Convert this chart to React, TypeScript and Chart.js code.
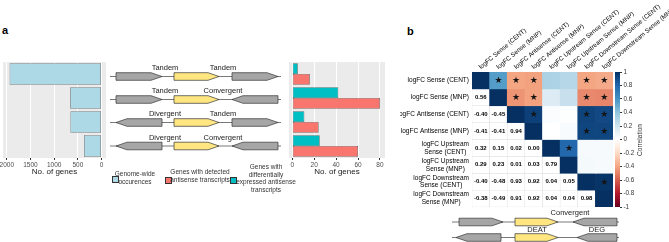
import React, { useEffect, useRef } from "react";
import { Chart, registerables } from "chart.js";
Chart.register(...registerables);

const FONT = "'Liberation Sans', Arial, Helvetica, sans-serif";

// ---------- panel a data ----------
const arrangements = ["Tandem / Tandem", "Tandem / Convergent", "Divergent / Tandem", "Divergent / Convergent"];
const upstreamLabels = ["Tandem", "Tandem", "Divergent", "Divergent"];
const downstreamLabels = ["Tandem", "Convergent", "Tandem", "Convergent"];
const upstreamDir = ["R", "R", "L", "L"];
const downstreamDir = ["R", "L", "R", "L"];
const genomeWide = [1940, 660, 655, 370];
const detectedAntisense = [16, 80, 24, 60];
const deAntisense = [5, 42, 11, 25];
const genomeTicks = [0, 500, 1000, 1500, 2000];
const countTicks = [0, 20, 40, 60, 80];

// ---------- panel b data ----------
const corrNames = [
  "logFC Sense (CENT)",
  "logFC Sense (MNP)",
  "logFC Antisense (CENT)",
  "logFC Antisense (MNP)",
  "logFC Upstream Sense (CENT)",
  "logFC Upstream Sense (MNP)",
  "logFC Downstream Sense (CENT)",
  "logFC Downstream Sense (MNP)",
];
const corrRowLines = [
  ["logFC Sense (CENT)"],
  ["logFC Sense (MNP)"],
  ["logFC Antisense (CENT)"],
  ["logFC Antisense (MNP)"],
  ["logFC Upstream", "Sense (CENT)"],
  ["logFC Upstream", "Sense (MNP)"],
  ["logFC Downstream", "Sense (CENT)"],
  ["logFC Downstream", "Sense (MNP)"],
];
const corrMatrix = [
  [1, 0.56, -0.4, -0.41, 0.32, 0.29, -0.4, -0.38],
  [0.56, 1, -0.45, -0.41, 0.15, 0.23, -0.48, -0.49],
  [-0.4, -0.45, 1, 0.94, 0.02, 0.01, 0.93, 0.91],
  [-0.41, -0.41, 0.94, 1, 0.0, 0.03, 0.92, 0.92],
  [0.32, 0.15, 0.02, 0.0, 1, 0.79, 0.04, 0.04],
  [0.29, 0.23, 0.01, 0.03, 0.79, 1, 0.05, 0.04],
  [-0.4, -0.48, 0.93, 0.92, 0.04, 0.05, 1, 0.98],
  [-0.38, -0.49, 0.91, 0.92, 0.04, 0.04, 0.98, 1],
];
const sigCells = [
  [0, 1], [0, 2], [0, 3], [0, 6], [0, 7],
  [1, 2], [1, 3], [1, 6], [1, 7],
  [2, 3], [2, 6], [2, 7],
  [3, 6], [3, 7],
  [4, 5],
  [6, 7],
];
const corrTicks = [-1, -0.8, -0.6, -0.4, -0.2, 0, 0.2, 0.4, 0.6, 0.8, 1];
const rdbu = ["#67001F", "#B2182B", "#D6604D", "#F4A582", "#FDDBC7", "#FFFFFF", "#D1E5F0", "#92C5DE", "#4393C3", "#2166AC", "#053061"];

function hexRgb(h: string) {
  return [parseInt(h.slice(1, 3), 16), parseInt(h.slice(3, 5), 16), parseInt(h.slice(5, 7), 16)];
}
function corrColor(v: number) {
  const p = ((v + 1) / 2) * (rdbu.length - 1);
  const i = Math.min(Math.floor(p), rdbu.length - 2);
  const t = p - i;
  const a = hexRgb(rdbu[i]);
  const b = hexRgb(rdbu[i + 1]);
  const c = a.map((x, k) => Math.round(x + (b[k] - x) * t));
  return `rgb(${c[0]},${c[1]},${c[2]})`;
}

const panelBg = {
  id: "panelBg",
  beforeDraw(chart: any) {
    const { ctx, chartArea: a } = chart;
    ctx.save();
    ctx.fillStyle = "#EBEBEB";
    ctx.fillRect(a.left, a.top, a.right - a.left, a.bottom - a.top);
    ctx.restore();
  },
};

const heatLabels = {
  id: "heatLabels",
  afterDatasetsDraw(chart: any) {
    const { ctx, chartArea } = chart;
    const x = chart.scales.x;
    const y = chart.scales.y;
    ctx.save();
    ctx.textAlign = "center";
    ctx.textBaseline = "middle";
    ctx.fillStyle = "#000";
    ctx.font = `bold 6px ${FONT}`;
    for (let r = 0; r < corrMatrix.length; r++) {
      for (let c = 0; c < r; c++) {
        ctx.fillText(corrMatrix[r][c].toFixed(2), x.getPixelForValue(c), y.getPixelForValue(r + 0.5));
      }
    }
    ctx.font = `9px 'DejaVu Sans', sans-serif`;
    ctx.fillStyle = "#141414";
    sigCells.forEach(([r, c]) => {
      ctx.fillText("\u2605", x.getPixelForValue(c), y.getPixelForValue(r + 0.5) + 0.5);
    });
    ctx.fillStyle = "#000";
    ctx.font = `6.5px ${FONT}`;
    corrRowLines.forEach((lines, r) => {
      const py = y.getPixelForValue(r + 0.5);
      const w = Math.max(...lines.map((l) => ctx.measureText(l).width));
      const cx = chartArea.left - 3 - w / 2;
      lines.forEach((l, i) => ctx.fillText(l, cx, py + (i - (lines.length - 1) / 2) * 7.8));
    });
    ctx.textAlign = "left";
    ctx.font = `6.3px ${FONT}`;
    corrNames.forEach((n, c) => {
      ctx.save();
      ctx.translate(x.getPixelForValue(c) - 1, chartArea.top - 4);
      ctx.rotate((-40 * Math.PI) / 180);
      ctx.fillText(n, 0, 0);
      ctx.restore();
    });
    ctx.restore();
  },
};

function ChartBox({ left, top, width, height, make }: any) {
  const ref = useRef<HTMLCanvasElement>(null);
  useEffect(() => {
    const chart = new Chart(ref.current as HTMLCanvasElement, make());
    return () => chart.destroy();
  }, []);
  return <canvas ref={ref} width={width} height={height} style={{ position: "absolute", left, top, width, height }} />;
}

const tickFont = { family: FONT, size: 6.5 };
const plainTick = (v: number) => String(v);

function leftChart() {
  return {
    type: "bar",
    data: {
      labels: arrangements,
      datasets: [
        {
          data: genomeWide,
          backgroundColor: "#ADD8E6",
          borderColor: "#333333",
          borderWidth: 0.6,
          borderSkipped: false,
          barPercentage: 0.9,
          categoryPercentage: 1,
        },
      ],
    },
    options: {
      indexAxis: "y",
      animation: false,
      responsive: false,
      devicePixelRatio: 1,
      layout: { padding: { left: 13, right: 6, top: 7, bottom: 0 } },
      plugins: { legend: { display: false }, tooltip: { enabled: false } },
      scales: {
        x: {
          reverse: true,
          min: -95,
          max: 2080,
          afterBuildTicks: (s: any) => {
            s.ticks = genomeTicks.map((v) => ({ value: v }));
          },
          afterFit: (s: any) => {
            s.height = 19;
          },
          grid: { color: "#FFFFFF", lineWidth: 1, tickColor: "#333333", tickLength: 2 },
          border: { display: false },
          ticks: { font: tickFont, color: "#4D4D4D", padding: 1, maxRotation: 0, callback: plainTick },
          title: { display: true, text: "No. of genes", font: { family: FONT, size: 8 }, color: "#1A1A1A", padding: 0 },
        },
        y: { display: false },
      },
    },
    plugins: [panelBg],
  };
}

function rightChart() {
  return {
    type: "bar",
    data: {
      labels: arrangements,
      datasets: [
        {
          label: "Genes with differentially expressed antisense transcripts",
          data: deAntisense,
          backgroundColor: "#00BFC4",
          borderColor: "#333333",
          borderWidth: 0.6,
          borderSkipped: false,
          barPercentage: 1,
          categoryPercentage: 0.9,
        },
        {
          label: "Genes with detected antisense transcripts",
          data: detectedAntisense,
          backgroundColor: "#F8766D",
          borderColor: "#333333",
          borderWidth: 0.6,
          borderSkipped: false,
          barPercentage: 1,
          categoryPercentage: 0.9,
        },
      ],
    },
    options: {
      indexAxis: "y",
      animation: false,
      responsive: false,
      devicePixelRatio: 1,
      layout: { padding: { left: 10, right: 8, top: 7, bottom: 0 } },
      plugins: { legend: { display: false }, tooltip: { enabled: false } },
      scales: {
        x: {
          min: -3,
          max: 84.6,
          afterBuildTicks: (s: any) => {
            s.ticks = countTicks.map((v) => ({ value: v }));
          },
          afterFit: (s: any) => {
            s.height = 19;
          },
          grid: { color: "#FFFFFF", lineWidth: 1, tickColor: "#333333", tickLength: 2 },
          border: { display: false },
          ticks: { font: tickFont, color: "#4D4D4D", padding: 1, maxRotation: 0, callback: plainTick },
          title: { display: true, text: "No. of genes", font: { family: FONT, size: 8 }, color: "#1A1A1A", padding: 0 },
        },
        y: { display: false },
      },
    },
    plugins: [panelBg],
  };
}

function heatChart() {
  const n = corrMatrix.length;
  const datasets = corrMatrix.map((row, r) => ({
    label: corrNames[r],
    data: row.map(() => 1),
    backgroundColor: row.map((v, c) => (c >= r ? corrColor(v) : "#FFFFFF")),
    borderColor: "#DDDDDD",
    borderWidth: row.map((_, c) => (c < r ? 0.5 : 0)),
    borderSkipped: false,
    barPercentage: 1,
    categoryPercentage: 1,
  }));
  return {
    type: "bar",
    data: { labels: corrNames, datasets },
    options: {
      animation: false,
      responsive: false,
      devicePixelRatio: 1,
      layout: { padding: { left: 72, right: 56, top: 72, bottom: 5 } },
      plugins: { legend: { display: false }, tooltip: { enabled: false } },
      scales: {
        x: { stacked: true, display: false },
        y: { stacked: true, display: false, min: 0, max: n, reverse: true },
      },
    },
    plugins: [heatLabels],
  };
}

function colorbarChart() {
  return {
    type: "bar",
    data: {
      labels: ["Correlation"],
      datasets: [
        {
          data: [[-1, 1]],
          backgroundColor: (ctx: any) => {
            const ca = ctx.chart.chartArea;
            if (!ca) return "#FFFFFF";
            const g = ctx.chart.ctx.createLinearGradient(0, ca.bottom, 0, ca.top);
            rdbu.forEach((col, i) => g.addColorStop(i / (rdbu.length - 1), col));
            return g;
          },
          borderWidth: 0,
          barPercentage: 1,
          categoryPercentage: 1,
        },
      ],
    },
    options: {
      animation: false,
      responsive: false,
      devicePixelRatio: 1,
      layout: { padding: { left: 15, right: 0, top: 12, bottom: 13 } },
      plugins: { legend: { display: false }, tooltip: { enabled: false } },
      scales: {
        x: { display: false },
        y: {
          position: "right",
          min: -1,
          max: 1,
          afterBuildTicks: (s: any) => {
            s.ticks = corrTicks.map((v) => ({ value: v }));
          },
          afterFit: (s: any) => {
            s.width = 20;
          },
          grid: { drawOnChartArea: false, drawTicks: true, tickLength: 2, tickColor: "#333333" },
          border: { display: false },
          ticks: {
            font: { family: FONT, size: 6.3 },
            color: "#333333",
            padding: 1.5,
            callback: (v: number) => {
              const r = Math.round(v * 10) / 10;
              return Math.abs(r) === 1 || r === 0 ? String(r) : r.toFixed(1);
            },
          },
        },
      },
    },
  };
}

function Gene({ x1, x2, y, dir, fill }: any) {
  const h = 3.8;
  const a = 11;
  const pts =
    dir === "R"
      ? [[x1, y - h], [x2 - a, y - h], [x2, y], [x2 - a, y + h], [x1, y + h]]
      : [[x2, y - h], [x1 + a, y - h], [x1, y], [x1 + a, y + h], [x2, y + h]];
  return <polygon points={pts.map((p) => p.join(",")).join(" ")} fill={fill} stroke="#333333" strokeWidth={0.7} />;
}

const GRAY = "#A6A6A6";
const YELLOW = "#FFE680";
const rowYs = [76.5, 99.5, 122.5, 146];

function Diagrams() {
  const txt = { fontFamily: FONT, fontSize: 7.5, fill: "#1A1A1A", textAnchor: "middle" as const, dominantBaseline: "middle" as const };
  return (
    <svg width={669} height={242} style={{ position: "absolute", left: 0, top: 0 }}>
      {rowYs.map((y, i) => (
        <g key={i}>
          <line x1={110} x2={281} y1={y} y2={y} stroke="#555555" strokeWidth={0.8} />
          <Gene x1={116} x2={162} y={y} dir={upstreamDir[i]} fill={GRAY} />
          <Gene x1={174} x2={219} y={y} dir="R" fill={YELLOW} />
          <Gene x1={232} x2={278} y={y} dir={downstreamDir[i]} fill={GRAY} />
          <text x={165} y={y - 8} {...txt}>{upstreamLabels[i]}</text>
          <text x={223} y={y - 8} {...txt}>{downstreamLabels[i]}</text>
        </g>
      ))}
      <text x={570} y={213} {...txt}>Convergent</text>
      <line x1={452} x2={619} y1={222} y2={222} stroke="#555555" strokeWidth={0.8} />
      <Gene x1={459} x2={503} y={222} dir="R" fill={GRAY} />
      <Gene x1={515} x2={558} y={222} dir="R" fill={YELLOW} />
      <Gene x1={573} x2={617} y={222} dir="L" fill={GRAY} />
      <text x={537} y={230.5} {...txt}>DEAT</text>
      <text x={597} y={230.5} {...txt}>DEG</text>
      <line x1={452} x2={619} y1={237.5} y2={237.5} stroke="#555555" strokeWidth={0.8} />
      <Gene x1={456} x2={501} y={237.5} dir="L" fill={GRAY} />
      <Gene x1={515} x2={558} y={237.5} dir="R" fill={YELLOW} />
      <Gene x1={577} x2={617} y={237.5} dir="L" fill={GRAY} />
    </svg>
  );
}

function LegendItem({ boxLeft, boxTop, color, textCenter, textTop, lines }: any) {
  return (
    <>
      <div
        style={{
          position: "absolute",
          left: boxLeft,
          top: boxTop,
          width: 5,
          height: 5,
          background: color,
          border: "0.6px solid #333",
        }}
      />
      <div
        style={{
          position: "absolute",
          left: textCenter - 40,
          top: textTop,
          width: 80,
          textAlign: "center",
          fontFamily: FONT,
          fontSize: 6.5,
          lineHeight: "7.6px",
          color: "#333333",
          whiteSpace: "nowrap",
        }}
      >
        {lines.map((l: string, i: number) => (
          <div key={i}>{l}</div>
        ))}
      </div>
    </>
  );
}

export default function App() {
  useEffect(() => {
    document.body.style.margin = "0";
  }, []);
  return (
    <div style={{ position: "fixed", left: 0, top: 0, width: 669, height: 242, background: "#FFFFFF", overflow: "hidden" }}>
      <div style={{ position: "absolute", left: 2, top: 24, fontFamily: FONT, fontWeight: "bold", fontSize: 11 }}>a</div>
      <div style={{ position: "absolute", left: 407, top: 25, fontFamily: FONT, fontWeight: "bold", fontSize: 11 }}>b</div>
      <ChartBox left={-10} top={55} width={122} height={122} make={leftChart} />
      <ChartBox left={279} top={55} width={114} height={122} make={rightChart} />
      <ChartBox left={400} top={0} width={269} height={212} make={heatChart} />
      <ChartBox left={600} top={60} width={40} height={160} make={colorbarChart} />
      <div
        style={{
          position: "absolute",
          left: 640 - 30,
          top: 140 - 5,
          width: 60,
          height: 10,
          lineHeight: "10px",
          textAlign: "center",
          transform: "rotate(-90deg)",
          fontFamily: FONT,
          fontSize: 6.5,
          color: "#333333",
        }}
      >
        Correlation
      </div>
      <Diagrams />
      <LegendItem boxLeft={112} boxTop={175.5} color="#ADD8E6" textCenter={135} textTop={170} lines={["Genome-wide", "occurences"]} />
      <LegendItem boxLeft={164.5} boxTop={176.5} color="#F8766D" textCenter={200} textTop={168} lines={["Genes with detected", "antisense transcripts"]} />
      <LegendItem boxLeft={230} boxTop={176.5} color="#00BFC4" textCenter={266} textTop={163} lines={["Genes with", "differentially", "expressed antisense", "transcripts"]} />
    </div>
  );
}
